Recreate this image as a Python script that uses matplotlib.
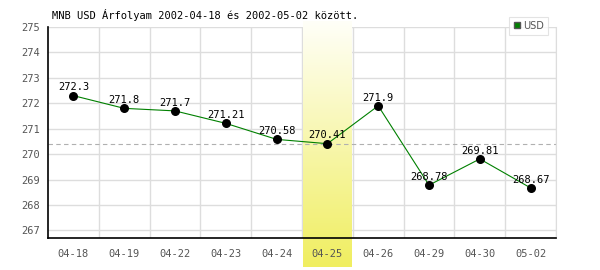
import numpy as np
import matplotlib as mpl
mpl.use("Agg")
import matplotlib.pyplot as plt
from matplotlib.colors import LinearSegmentedColormap

dates = ['04-18', '04-19', '04-22', '04-23', '04-24', '04-25',
         '04-26', '04-29', '04-30', '05-02']
usd = [272.3, 271.8, 271.7, 271.21, 270.58, 270.41, 271.9, 268.78, 269.81, 268.67]
highlight = 5
yticks = [267, 268, 269, 270, 271, 272, 273, 274, 275]

plt.rcParams['font.family'] = ['DejaVu Sans Mono']

fig = plt.figure(figsize=(6, 2.7), dpi=100)
ax = fig.add_axes([0.08, 0.1185, 0.8467, 0.7815])

x = np.arange(len(dates))
ax.set_xlim(-0.5, len(dates) - 0.5)
ax.set_ylim(266.7, 275)

# grid
for xv in np.arange(0.5, len(dates) - 0.5 + 1e-9, 1):
    ax.axvline(xv, color='#dddddd', lw=1, zorder=1)
for yv in yticks:
    ax.axhline(yv, color='#dddddd', lw=1, zorder=1)

# gradient band over the highlighted day, reaching below the axis
cmap = LinearSegmentedColormap.from_list('band', ['#fffff8', '#f0ee60'])
grad = np.linspace(0, 1, 256).reshape(-1, 1)
ax.imshow(grad, cmap=cmap, aspect='auto', origin='upper',
          extent=(highlight - 0.48, highlight + 0.48, 265.55, 275.2),
          clip_on=False, zorder=1.5)

ax.axhline(usd[highlight], color='#b0b0b0', lw=0.8, ls=(0, (4, 3)), zorder=2)

ax.plot(x, usd, color='#008000', lw=0.8, zorder=3, label='USD')
ax.scatter(x, usd, s=30, color='black', zorder=4)
for xi, v in zip(x, usd):
    ax.text(xi, v + 0.13, f'{v:g}', ha='center', va='bottom',
            fontsize=7.5, color='black', zorder=5)

ax.set_xticks(x)
ax.set_xticklabels(dates)
ax.set_yticks(yticks)
ax.tick_params(axis='both', length=0, labelsize=7.5, labelcolor='#555555')
ax.tick_params(axis='x', pad=8)
ax.tick_params(axis='y', pad=6)

ax.spines['top'].set_visible(False)
ax.spines['left'].set_linewidth(1.2)
ax.spines['bottom'].set_linewidth(1.2)
ax.spines['right'].set_color('#dddddd')

fig.text(52 / 600, 1 - 15 / 270, 'MNB USD Árfolyam 2002-04-18 és 2002-05-02 között.',
         fontsize=7.5, va='center', ha='left')

leg = fig.legend(handles=[plt.Line2D([], [], marker='s', ls='', color='#008000',
                                     markeredgecolor='#555555', markersize=5)],
                 labels=['USD'], loc='upper right', bbox_to_anchor=(553 / 600, 1 - 12 / 270),
                 frameon=True, fancybox=False, handlelength=0.8,
                 handletextpad=0.3, borderpad=0.4, prop={'family': 'DejaVu Sans', 'size': 7})
leg.get_frame().set_edgecolor('#dddddd')
leg.get_frame().set_linewidth(0.8)
for t in leg.get_texts():
    t.set_color('#555555')

fig.savefig('out.png', dpi=100)
